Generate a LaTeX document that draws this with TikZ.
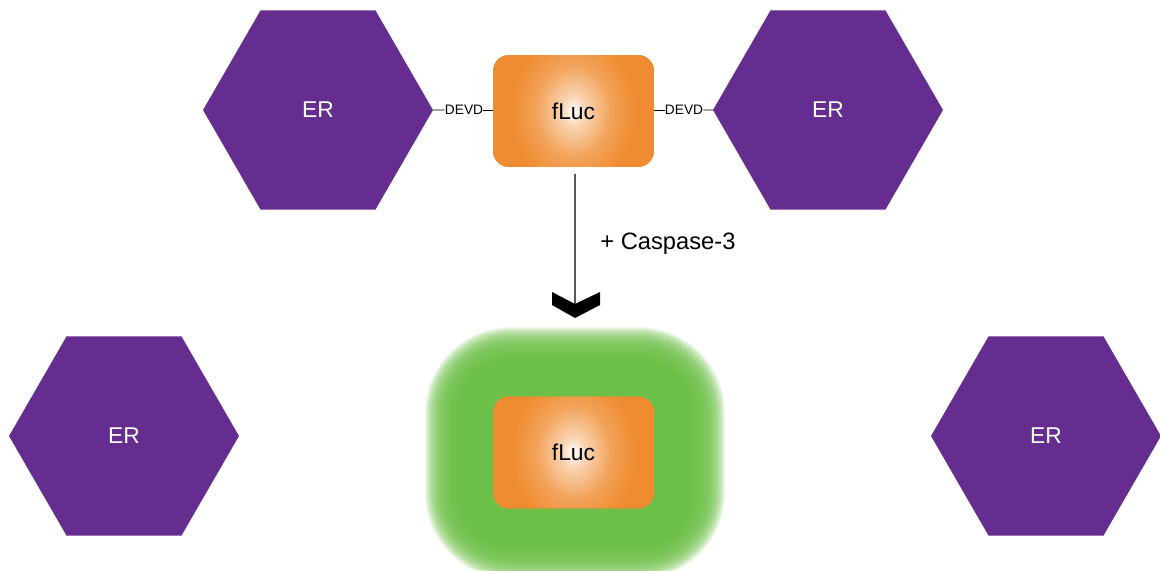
\documentclass[tikz,border=0pt]{standalone}
\usepackage{fontspec}
\setmainfont{Liberation Sans}
\usetikzlibrary{shapes.geometric,calc,positioning}
\definecolor{erpurple}{RGB}{101,45,143}
\definecolor{flucorange}{RGB}{239,140,49}
\definecolor{glowgreen}{RGB}{108,191,71}
\pgfdeclareradialshading{flucshade}{\pgfpoint{0bp}{0bp}}{color(0bp)=(white); color(7bp)=(flucorange!38!white); color(21bp)=(flucorange!80!white); color(35bp)=(flucorange); color(50bp)=(flucorange)}
\tikzset{
  er/.style={regular polygon, regular polygon sides=6, minimum size=4.6cm, inner sep=0pt, outer sep=0pt,
    fill=erpurple, text=white, font=\fontsize{13}{15}\selectfont},
  fluc/.style={rectangle, rounded corners=0.32cm, minimum width=3.22cm, minimum height=2.24cm,
    fill=flucorange, outer sep=0pt, font=\fontsize{13}{15}\selectfont,
    path picture={\node[inner sep=0pt, yscale=1.25, transform shape] at (path picture bounding box.center) {\pgfuseshading{flucshade}};}},
  devd/.style={inner sep=0pt, font=\fontsize{7.8}{9}\selectfont},
}
\begin{document}
\begin{tikzpicture}[x=0.02cm,y=-0.02cm]
    \useasboundingbox (0,0) rectangle (1160,571);
    % before cleavage
    \node[er] (erTL) at (318,110) {ER};
    \node[er] (erTR) at (828,110) {ER};
    \node[fluc] (flucTop) at (573.5,111) {fLuc};
    \node[devd] (devdL) at (464,110) {DEVD};
    \node[devd] (devdR) at (684,110) {DEVD};
    \draw[thin] (erTL.east) -- (devdL.west);
    \draw[thin] (devdL.east) -- (flucTop.west |- devdL);
    \draw[thin] (flucTop.east |- devdR) -- (devdR.west);
    \draw[thin] (devdR.east) -- (erTR.west);
    % caspase-3 step
    \coordinate (notch) at (575,304);
    \draw[line width=0.7pt] ($(flucTop.south)+(1.5,7)$) -- (notch);
    \fill ([shift={(-23,-12)}]notch) -- (notch) -- ([shift={(25,-12)}]notch)
        -- ([shift={(25,1)}]notch) -- ([shift={(0,14)}]notch) -- ([shift={(-23,1)}]notch) -- cycle;
    \node[anchor=west, inner sep=0pt, font=\fontsize{13.5}{16}\selectfont] (casp) at (600,244) {+ Caspase-3};
    % after cleavage
    \node[er] (erBL) at (124,436) {ER};
    \node[er] (erBR) at (1046,436) {ER};
    \coordinate (glow) at (575,453);
    \fill[glowgreen, rounded corners=1.1cm] ($(glow)+(-119,95)$) rectangle ($(glow)+(119,-95)$);
    \foreach \m in {39,...,70} {
        \pgfmathsetmacro\r{(16+\m)*0.02}
        \fill[glowgreen, opacity=0.1, rounded corners=\r cm] ($(glow)+(-80-\m,56+\m)$) rectangle ($(glow)+(80+\m,-56-\m)$);
    }
    \node[fluc] (flucBot) at (573.5,452.5) {fLuc};
\end{tikzpicture}
\end{document}
